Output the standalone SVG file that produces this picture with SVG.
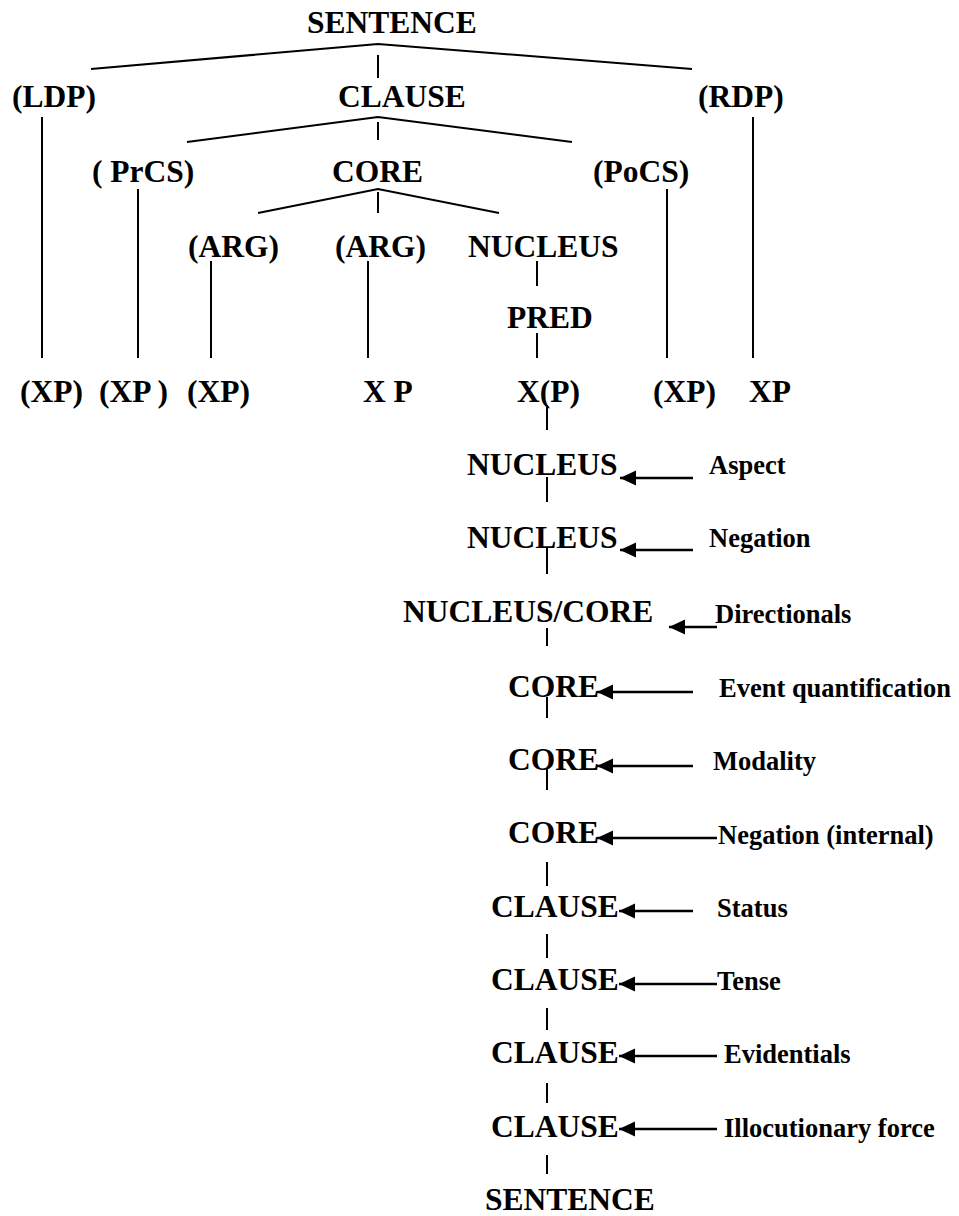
<svg xmlns="http://www.w3.org/2000/svg" width="959" height="1216" viewBox="0 0 959 1216">
  <style>
    .lbl { font-family: "Liberation Serif", "Times New Roman", serif; font-weight: bold; font-size: 31.5px; fill: #000; }
    .op  { font-family: "Liberation Serif", "Times New Roman", serif; font-weight: bold; font-size: 26.5px; fill: #000; }
    .edge { stroke: #000; stroke-width: 2; fill: none; }
    .arr  { stroke: #000; stroke-width: 2.6; fill: none; }
  </style>
  <defs>
    <marker id="head" markerUnits="userSpaceOnUse" markerWidth="18" markerHeight="16" refX="16" refY="7.5" orient="auto">
      <path d="M0,0 L16,7.5 L0,15 Z" fill="#000"/>
    </marker>
  </defs>
  <rect width="959" height="1216" fill="#fff"/>

  <!-- tree edges and operator arrows -->
  <g id="connectors">
    <path class="edge" d="M91,69 L378,44 L692,69"/>
    <path class="edge" d="M378,55 V78"/>
    <path class="edge" d="M187,142 L378,117 L572,142"/>
    <path class="edge" d="M378,122 V140"/>
    <path class="edge" d="M258,213 L378,189 L499,213"/>
    <path class="edge" d="M378,192 V213"/>
    <path class="edge" d="M42,117 V358"/>
    <path class="edge" d="M753,117 V358"/>
    <path class="edge" d="M138,189 V358"/>
    <path class="edge" d="M667,189 V358"/>
    <path class="edge" d="M211,261 V358"/>
    <path class="edge" d="M368,261 V358"/>
    <path class="edge" d="M537,261 V286"/>
    <path class="edge" d="M537,333 V358"/>
    <path class="edge" d="M547,405 V430"/>
    <!-- projection spine -->
    <path class="edge" d="M547,477 V502"/>
    <path class="edge" d="M547,548 V574"/>
    <path class="edge" d="M547,628 V646"/>
    <path class="edge" d="M547,697 V718"/>
    <path class="edge" d="M547,768 V790"/>
    <path class="edge" d="M547,862 V886"/>
    <path class="edge" d="M547,934 V958"/>
    <path class="edge" d="M547,1008 V1030"/>
    <path class="edge" d="M547,1083 V1103"/>
    <path class="edge" d="M547,1155 V1174"/>
    <!-- operator arrows -->
    <path class="arr" d="M693,478 H620" marker-end="url(#head)"/>
    <path class="arr" d="M693,550 H620" marker-end="url(#head)"/>
    <path class="arr" d="M717,627 H669" marker-end="url(#head)"/>
    <path class="arr" d="M693,692 H597" marker-end="url(#head)"/>
    <path class="arr" d="M693,766 H597" marker-end="url(#head)"/>
    <path class="arr" d="M717,838 H597" marker-end="url(#head)"/>
    <path class="arr" d="M693,911 H619" marker-end="url(#head)"/>
    <path class="arr" d="M717,984 H619" marker-end="url(#head)"/>
    <path class="arr" d="M717,1056 H619" marker-end="url(#head)"/>
    <path class="arr" d="M717,1129 H619" marker-end="url(#head)"/>
  </g>

  <!-- layered clause structure -->
  <g id="n-sentence"><text class="lbl" x="307" y="33">SENTENCE</text></g>
  <g id="n-ldp"><text class="lbl" x="12" y="107">(LDP)</text></g>
  <g id="n-clause"><text class="lbl" x="338" y="107">CLAUSE</text></g>
  <g id="n-rdp"><text class="lbl" x="698" y="107">(RDP)</text></g>
  <g id="n-prcs"><text class="lbl" x="92" y="182" xml:space="preserve">( PrCS)</text></g>
  <g id="n-core"><text class="lbl" x="332" y="182">CORE</text></g>
  <g id="n-pocs"><text class="lbl" x="593" y="182">(PoCS)</text></g>
  <g id="n-arg1"><text class="lbl" x="188" y="257">(ARG)</text></g>
  <g id="n-arg2"><text class="lbl" x="335" y="257">(ARG)</text></g>
  <g id="n-nucleus"><text class="lbl" x="468" y="257">NUCLEUS</text></g>
  <g id="n-pred"><text class="lbl" x="507" y="328">PRED</text></g>
  <g id="n-xp1"><text class="lbl" x="20" y="402">(XP)</text></g>
  <g id="n-xp2"><text class="lbl" x="99" y="402" xml:space="preserve">(XP )</text></g>
  <g id="n-xp3"><text class="lbl" x="187" y="402">(XP)</text></g>
  <g id="n-xp4"><text class="lbl" x="363" y="402" xml:space="preserve">X P</text></g>
  <g id="n-xp5"><text class="lbl" x="517" y="402">X(P)</text></g>
  <g id="n-xp6"><text class="lbl" x="653" y="402">(XP)</text></g>
  <g id="n-xp7"><text class="lbl" x="749" y="402">XP</text></g>

  <!-- operator projection -->
  <g id="p-nucleus1"><text class="lbl" x="467" y="475">NUCLEUS</text></g>
  <g id="p-nucleus2"><text class="lbl" x="467" y="548">NUCLEUS</text></g>
  <g id="p-nuccore"><text class="lbl" x="403" y="622">NUCLEUS/CORE</text></g>
  <g id="p-core1"><text class="lbl" x="508" y="697">CORE</text></g>
  <g id="p-core2"><text class="lbl" x="508" y="770">CORE</text></g>
  <g id="p-core3"><text class="lbl" x="508" y="843">CORE</text></g>
  <g id="p-clause1"><text class="lbl" x="491" y="917">CLAUSE</text></g>
  <g id="p-clause2"><text class="lbl" x="491" y="990">CLAUSE</text></g>
  <g id="p-clause3"><text class="lbl" x="491" y="1063">CLAUSE</text></g>
  <g id="p-clause4"><text class="lbl" x="491" y="1137">CLAUSE</text></g>
  <g id="p-sentence"><text class="lbl" x="485" y="1210">SENTENCE</text></g>

  <!-- operators -->
  <g id="op-aspect"><text class="op" x="709" y="474">Aspect</text></g>
  <g id="op-negation"><text class="op" x="709" y="547">Negation</text></g>
  <g id="op-directionals"><text class="op" x="715" y="623">Directionals</text></g>
  <g id="op-eventquant"><text class="op" x="719" y="697">Event quantification</text></g>
  <g id="op-modality"><text class="op" x="713" y="770">Modality</text></g>
  <g id="op-neginternal"><text class="op" x="718" y="844">Negation (internal)</text></g>
  <g id="op-status"><text class="op" x="717" y="917">Status</text></g>
  <g id="op-tense"><text class="op" x="717" y="990">Tense</text></g>
  <g id="op-evidentials"><text class="op" x="724" y="1063">Evidentials</text></g>
  <g id="op-illocutionary"><text class="op" x="724" y="1137">Illocutionary force</text></g>
</svg>
